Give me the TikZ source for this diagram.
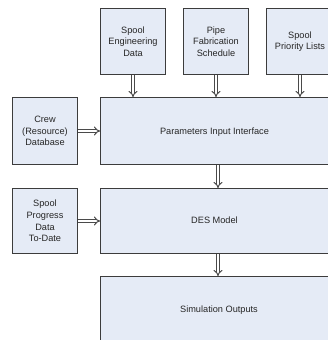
\documentclass[tikz,border=0pt]{standalone}
\usepackage{fontspec}
\setmainfont{Liberation Sans}
\usetikzlibrary{arrows.meta,calc}
\definecolor{boxfill}{HTML}{E5EBF6}
\definecolor{boxline}{HTML}{3C3C3C}
\definecolor{arrowline}{HTML}{4A4A4A}
\begin{document}
\begin{tikzpicture}[x=1pt,y=-1pt,
  box/.style={draw=boxline, line width=1pt, fill=boxfill, inner sep=0pt,
    font=\fontsize{9.2}{11.7}\selectfont, text=black!85, align=center},
  caption/.style={font=\fontsize{9.2}{11.7}\selectfont, text=black!85},
  flow/.style={draw=arrowline, line width=1pt, double=white, double distance=2pt,
    -{Implies[length=5pt, width=10pt]}},
]
\clip (0,0) rectangle (328,340);
\fill[white] (0,0) rectangle (328,340);

% input sources along the top
\node[box, minimum width=65pt, minimum height=66pt] (sed) at (133,41.5)
  {Spool\\Engineering\\Data};
\node[box, minimum width=65pt, minimum height=66pt] (pfs) at (216,41.5)
  {Pipe\\Fabrication\\Schedule};
\node[box, minimum width=67pt, minimum height=66pt] (spl) at (300,41.5)
  {Spool\\Priority Lists};

% input sources on the left
\node[box, minimum width=65pt, minimum height=67pt] (crew) at (45,131)
  {Crew\\(Resource)\\Database};
\node[box, minimum width=65pt, minimum height=65pt] (prog) at (45,221)
  {Spool\\Progress\\Data\\To-Date};

% main chain
\node[box, minimum width=235pt, minimum height=67pt] (pii) at (218,131) {};
\node[caption] (piit) at (214.5,131.7) {Parameters Input Interface};
\node[box, minimum width=235pt, minimum height=65pt] (des) at (218,221) {};
\node[caption] (dest) at (214.5,220.5) {DES Model};
\node[box, minimum width=235pt, minimum height=68pt] (sim) at (218,310.5) {};
\node[caption] (simt) at (219,310) {Simulation Outputs};

% connectors
\draw[flow] (sed.south) -- (sed.south |- pii.north);
\draw[flow] (pfs.south) -- (pfs.south |- pii.north);
\draw[flow] (spl.south) -- (spl.south |- pii.north);
\draw[flow] (crew.east) -- (crew.east -| pii.west);
\draw[flow] (prog.east) -- (prog.east -| des.west);
\draw[flow] (pii.south) -- (des.north);
\draw[flow] (des.south) -- (sim.north);
\end{tikzpicture}
\end{document}
